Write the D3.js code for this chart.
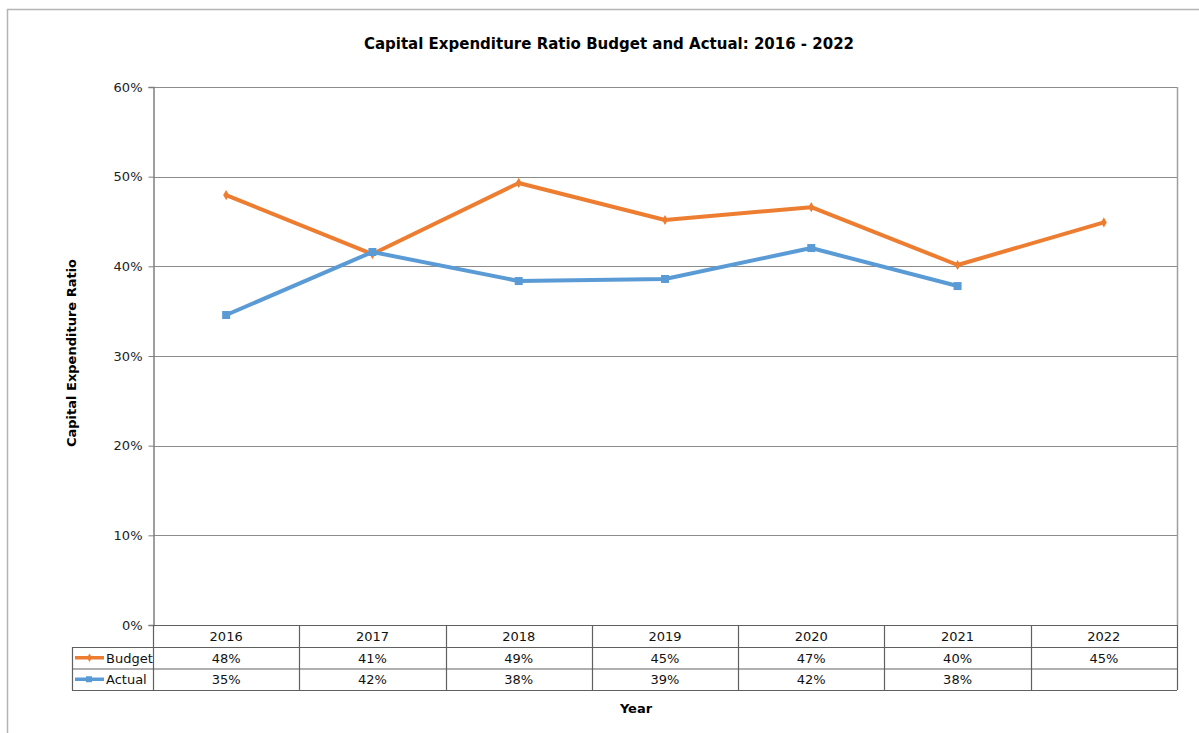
<!DOCTYPE html>
<html>
<head>
<meta charset="utf-8">
<script src="https://cdn.jsdelivr.net/npm/d3@7"></script>
<style>
  html, body { margin: 0; padding: 0; background: #ffffff; }
  svg { display: block; font-family: "DejaVu Sans", Tahoma, Verdana, sans-serif; }
</style>
</head>
<body>
<svg id="chart" width="1199" height="733"></svg>
<script>
// Data
const years = ["2016", "2017", "2018", "2019", "2020", "2021", "2022"];
const budget = [0.4795, 0.4137, 0.493, 0.4517, 0.466, 0.4015, 0.449];
const actual = [0.3457, 0.416, 0.3836, 0.3859, 0.4204, 0.378, null];
const yTicks = [0, 0.1, 0.2, 0.3, 0.4, 0.5, 0.6];
const seriesNames = ["Budget", "Actual"];
const seriesColors = ["#ED7D31", "#5B9BD5"];

const svg = d3.select("#chart");

// Outer chart frame
svg.append("rect")
  .attr("x", 7.5).attr("y", 9.5)
  .attr("width", 1250).attr("height", 800)
  .attr("fill", "none").attr("stroke", "#b4b4b4").attr("stroke-width", 1.5);

const plot = { left: 153, right: 1177, top: 87, bottom: 625 };

const x = d3.scaleBand().domain(years).range([plot.left, plot.right]);
const y = d3.scaleLinear().domain([0, 0.6]).range([plot.bottom, plot.top]);

// Title
svg.append("text")
  .attr("x", 609).attr("y", 49)
  .attr("text-anchor", "middle")
  .attr("font-size", 15).attr("font-weight", "bold").attr("fill", "#000")
  .text("Capital Expenditure Ratio Budget and Actual: 2016 - 2022");

// Horizontal gridlines
svg.append("g")
  .selectAll("line")
  .data(yTicks)
  .join("line")
  .attr("x1", plot.left).attr("x2", plot.right)
  .attr("y1", d => Math.round(y(d)) + 0.5).attr("y2", d => Math.round(y(d)) + 0.5)
  .attr("stroke", "#8c8c8c").attr("stroke-width", 1.2);

// Right border of plot area
svg.append("line")
  .attr("x1", plot.right + 0.5).attr("x2", plot.right + 0.5)
  .attr("y1", plot.top).attr("y2", plot.bottom)
  .attr("stroke", "#a0a0a0").attr("stroke-width", 1.5);

// Y axis
const yAxis = d3.axisLeft(y)
  .tickValues(yTicks)
  .tickFormat(d3.format(".0%"))
  .tickSize(5)
  .tickPadding(6);
const yg = svg.append("g")
  .attr("transform", `translate(${plot.left + 0.5},0)`)
  .call(yAxis);
yg.select(".domain").attr("stroke", "#7f7f7f").attr("stroke-width", 1.5);
yg.selectAll(".tick line").attr("stroke", "#7f7f7f");
yg.selectAll(".tick text")
  .attr("font-size", 13).attr("fill", "#222")
  .attr("font-family", "\"DejaVu Sans\", Tahoma, sans-serif");

// Y axis title
svg.append("text")
  .attr("transform", "translate(76,353) rotate(-90)")
  .attr("text-anchor", "middle")
  .attr("font-size", 13).attr("font-weight", "bold").attr("fill", "#000")
  .text("Capital Expenditure Ratio");

// Lines
const line = d3.line()
  .defined(d => d.v != null)
  .x(d => x(d.year) + x.bandwidth() / 2)
  .y(d => y(d.v));

const series = [budget, actual].map((vals, i) => ({
  name: seriesNames[i],
  color: seriesColors[i],
  points: years.map((yr, j) => ({ year: yr, v: vals[j] }))
}));

const lg = svg.append("g");
lg.selectAll("path")
  .data(series)
  .join("path")
  .attr("d", s => line(s.points))
  .attr("fill", "none")
  .attr("stroke", s => s.color)
  .attr("stroke-width", 4)
  .attr("stroke-linejoin", "round");

// Budget markers (small diamonds)
lg.append("g").selectAll("path")
  .data(series[0].points.filter(p => p.v != null))
  .join("path")
  .attr("transform", p => `translate(${x(p.year) + x.bandwidth() / 2},${y(p.v)})`)
  .attr("d", d3.symbol(d3.symbolDiamond, 30)())
  .attr("fill", seriesColors[0]);

// Actual markers (small squares)
lg.append("g").selectAll("rect")
  .data(series[1].points.filter(p => p.v != null))
  .join("rect")
  .attr("x", p => x(p.year) + x.bandwidth() / 2 - 4)
  .attr("y", p => y(p.v) - 4)
  .attr("width", 8).attr("height", 8)
  .attr("fill", seriesColors[1]);

// Data table
const rowTop = [625, 647, 668.5];
const rowBottom = 690;
const tableLeft = 72;
const tg = svg.append("g").attr("stroke", "#606060").attr("stroke-width", 1.2).attr("fill", "none");

// horizontal rules
tg.append("line").attr("x1", plot.left).attr("x2", plot.right).attr("y1", rowTop[0] + 0.5).attr("y2", rowTop[0] + 0.5);
[rowTop[1], rowTop[2], rowBottom].forEach(yy => {
  tg.append("line").attr("x1", tableLeft).attr("x2", plot.right).attr("y1", yy + 0.5).attr("y2", yy + 0.5);
});
// vertical rules
tg.append("line").attr("x1", tableLeft + 0.5).attr("x2", tableLeft + 0.5).attr("y1", rowTop[1]).attr("y2", rowBottom);
years.forEach(yr => {
  const xx = Math.round(x(yr)) + 0.5;
  tg.append("line").attr("x1", xx).attr("x2", xx).attr("y1", rowTop[0]).attr("y2", rowBottom);
});
tg.append("line").attr("x1", plot.right + 0.5).attr("x2", plot.right + 0.5).attr("y1", rowTop[0]).attr("y2", rowBottom);

const fmt = d3.format(".0%");
const cellText = svg.append("g")
  .attr("font-size", 13).attr("fill", "#111").attr("text-anchor", "middle");

cellText.selectAll("text.yr")
  .data(years)
  .join("text")
  .attr("class", "yr")
  .attr("x", d => x(d) + x.bandwidth() / 2)
  .attr("y", (rowTop[0] + rowTop[1]) / 2 + 5)
  .text(d => d);

series.forEach((s, i) => {
  const top = rowTop[i + 1];
  const bottom = i === 0 ? rowTop[2] : rowBottom;
  const cy = (top + bottom) / 2;
  cellText.append("g").selectAll("text")
    .data(s.points.filter(p => p.v != null))
    .join("text")
    .attr("x", p => x(p.year) + x.bandwidth() / 2)
    .attr("y", cy + 5)
    .text(p => fmt(p.v));

  // legend key
  svg.append("line")
    .attr("x1", 75).attr("x2", 104)
    .attr("y1", cy).attr("y2", cy)
    .attr("stroke", s.color).attr("stroke-width", 3.5);
  if (i === 0) {
    svg.append("path")
      .attr("transform", `translate(89.5,${cy})`)
      .attr("d", d3.symbol(d3.symbolDiamond, 22)())
      .attr("fill", s.color);
  } else {
    svg.append("rect")
      .attr("x", 86).attr("y", cy - 3).attr("width", 6).attr("height", 6)
      .attr("fill", s.color);
  }
  svg.append("text")
    .attr("x", 106).attr("y", cy + 5)
    .attr("font-size", 13).attr("fill", "#111")
    .text(s.name);
});

// X axis title
svg.append("text")
  .attr("x", 636).attr("y", 713)
  .attr("text-anchor", "middle")
  .attr("font-size", 13).attr("font-weight", "bold").attr("fill", "#000")
  .text("Year");
</script>
</body>
</html>
